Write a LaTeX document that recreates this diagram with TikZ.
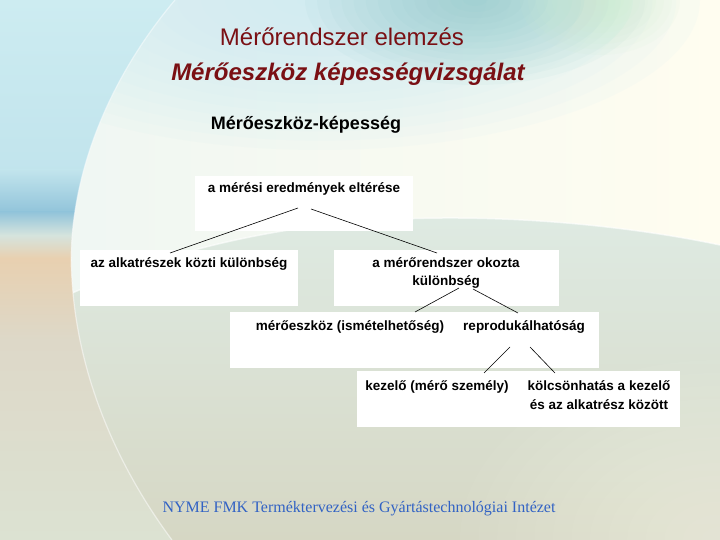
\documentclass[tikz,border=0pt]{standalone}
\usepackage{fontspec}
\setmainfont{Liberation Sans}
\newfontfamily\footfont{Liberation Serif}
\definecolor{titlered}{RGB}{122,16,20}
\definecolor{footblue}{RGB}{50,98,196}
\definecolor{lowtop}{RGB}{222,234,226}
\definecolor{lowbot}{RGB}{214,215,196}
\definecolor{domeL}{RGB}{238,246,243}
\definecolor{domeR}{RGB}{255,253,240}
\definecolor{teal1}{RGB}{130,195,196}
\definecolor{green1}{RGB}{205,238,205}
\definecolor{cyan1}{RGB}{205,236,241}
\definecolor{blue1}{RGB}{146,196,218}
\definecolor{peach1}{RGB}{232,208,176}
\definecolor{beige1}{RGB}{221,216,200}
\definecolor{beige2}{RGB}{220,226,210}
\begin{document}
\begin{tikzpicture}[x=1pt,y=-1pt,
  box/.style={fill=white, draw=none, inner sep=0pt, anchor=north west},
  lbl/.style={font=\fontsize{13.5}{18}\selectfont\bfseries, inner sep=0pt, align=center, text=black, anchor=base},
  conn/.style={draw=black, line width=0.6pt},
  title/.style={text=titlered, inner sep=0pt, anchor=base}]
\useasboundingbox (0,0) rectangle (720,540);
\begin{scope}
\clip (0,0) rectangle (720,540);
% ---------- background ----------
\fill[lowtop] (0,0) rectangle (720,220);
\shade[top color=lowtop, bottom color=lowbot] (0,220) rectangle (720,540);
\foreach \i in {1,...,14}
  \fill[white, opacity=0.035] (720,540) ellipse ({260*\i/14} and {180*\i/14});
% dome
\shade[left color=domeL, right color=domeR]
  (0,0) -- (720,0) -- (720,245) .. controls (640,228) and (520,214) .. (400,219)
  .. controls (260,225) and (120,260) .. (0,330) -- cycle;
\draw[white, line width=1.5pt, opacity=0.6] (720,245) .. controls (640,228) and (520,214) .. (400,219)
  .. controls (260,225) and (120,260) .. (0,330);
% top teal band
\foreach \i in {1,...,16}
  \fill[cyan1, opacity=0.09] (320,0) ellipse ({380*\i/16} and {150*\i/16});
\foreach \i in {1,...,14}
  \fill[teal1, opacity=0.06] (475,0) ellipse ({170*\i/14} and {85*\i/14});
\foreach \i in {1,...,10}
  \fill[green1, opacity=0.08] (600,0) ellipse ({80*\i/10} and {55*\i/10});
% left region
\begin{scope}
  \clip (0,0) -- (175,0) .. controls (95,95) and (66,200) .. (72,280)
     .. controls (78,380) and (120,470) .. (172,540) -- (0,540) -- cycle;
  \shade[top color=cyan1, bottom color=cyan1!80!blue1] (0,0) rectangle (200,170);
  \shade[top color=cyan1!80!blue1, bottom color=blue1] (0,170) rectangle (200,212);
  \shade[top color=blue1, bottom color=cyan1!70!peach1] (0,212) rectangle (200,235);
  \shade[top color=cyan1!70!peach1, bottom color=peach1] (0,235) rectangle (200,258);
  \shade[top color=peach1, bottom color=beige1] (0,258) rectangle (200,340);
  \shade[top color=beige1, bottom color=beige2] (0,340) rectangle (200,540);
\end{scope}
\draw[white, line width=1.2pt, opacity=0.5] (175,0) .. controls (95,95) and (66,200) .. (72,280)
     .. controls (78,380) and (120,470) .. (172,540);
\end{scope}
% ---------- titles ----------
\node[title, font=\fontsize{24}{28}\selectfont] (t1) at (342,46) {Mérőrendszer elemzés};
\node[title, font=\fontsize{24}{28}\selectfont\bfseries\itshape] (t2) at (348,81) {Mérőeszköz képességvizsgálat};
\node[inner sep=0pt, anchor=base, font=\fontsize{18}{22}\selectfont\bfseries] (t3) at (306,130) {Mérőeszköz-képesség};
% ---------- boxes ----------
\node[box, minimum width=218pt, minimum height=55pt] (A) at (195,176) {};
\node[box, minimum width=218pt, minimum height=56pt] (B) at (80,250) {};
\node[box, minimum width=225pt, minimum height=56pt] (C) at (334,250) {};
\node[box, minimum width=369pt, minimum height=56pt] (D) at (230,312) {};
\node[box, minimum width=323pt, minimum height=56pt] (E) at (357,371) {};
% ---------- texts ----------
\node[lbl] (At) at (304,193) {a mérési eredmények eltérése};
\node[lbl] (Bt) at (189,267) {az alkatrészek közti különbség};
\node[lbl] (Ct1) at (446,267) {a mérőrendszer okozta};
\node[lbl] (Ct2) at (446,285) {különbség};
\node[lbl] (Dt1) at (350,330) {mérőeszköz (ismételhetőség)};
\node[lbl] (Dt2) at (524,330) {reprodukálhatóság};
\node[lbl] (Et1) at (437,390) {kezelő (mérő személy)};
\node[lbl] (Et2) at (599,390) {kölcsönhatás a kezelő};
\node[lbl] (Et3) at (599,409) {és az alkatrész között};
% ---------- connectors ----------
\coordinate (a1) at (298,208); \coordinate (b1) at (170,253);
\coordinate (a2) at (311,209); \coordinate (c1) at (437,253);
\coordinate (c2) at (459,288); \coordinate (d1) at (415,312);
\coordinate (c3) at (473,289); \coordinate (d2) at (518,313);
\coordinate (d3) at (510,347); \coordinate (e1) at (484,373);
\coordinate (d4) at (530,347); \coordinate (e2) at (555,373);
\draw[conn] (a1) -- (b1);
\draw[conn] (a2) -- (c1);
\draw[conn] (c2) -- (d1);
\draw[conn] (c3) -- (d2);
\draw[conn] (d3) -- (e1);
\draw[conn] (d4) -- (e2);
% ---------- footer ----------
\node[inner sep=0pt, anchor=base, text=footblue, font=\footfont\fontsize{16}{19}\selectfont] (foot) at (359,512) {NYME FMK Terméktervezési és Gyártástechnológiai Intézet};
\end{tikzpicture}
\end{document}
